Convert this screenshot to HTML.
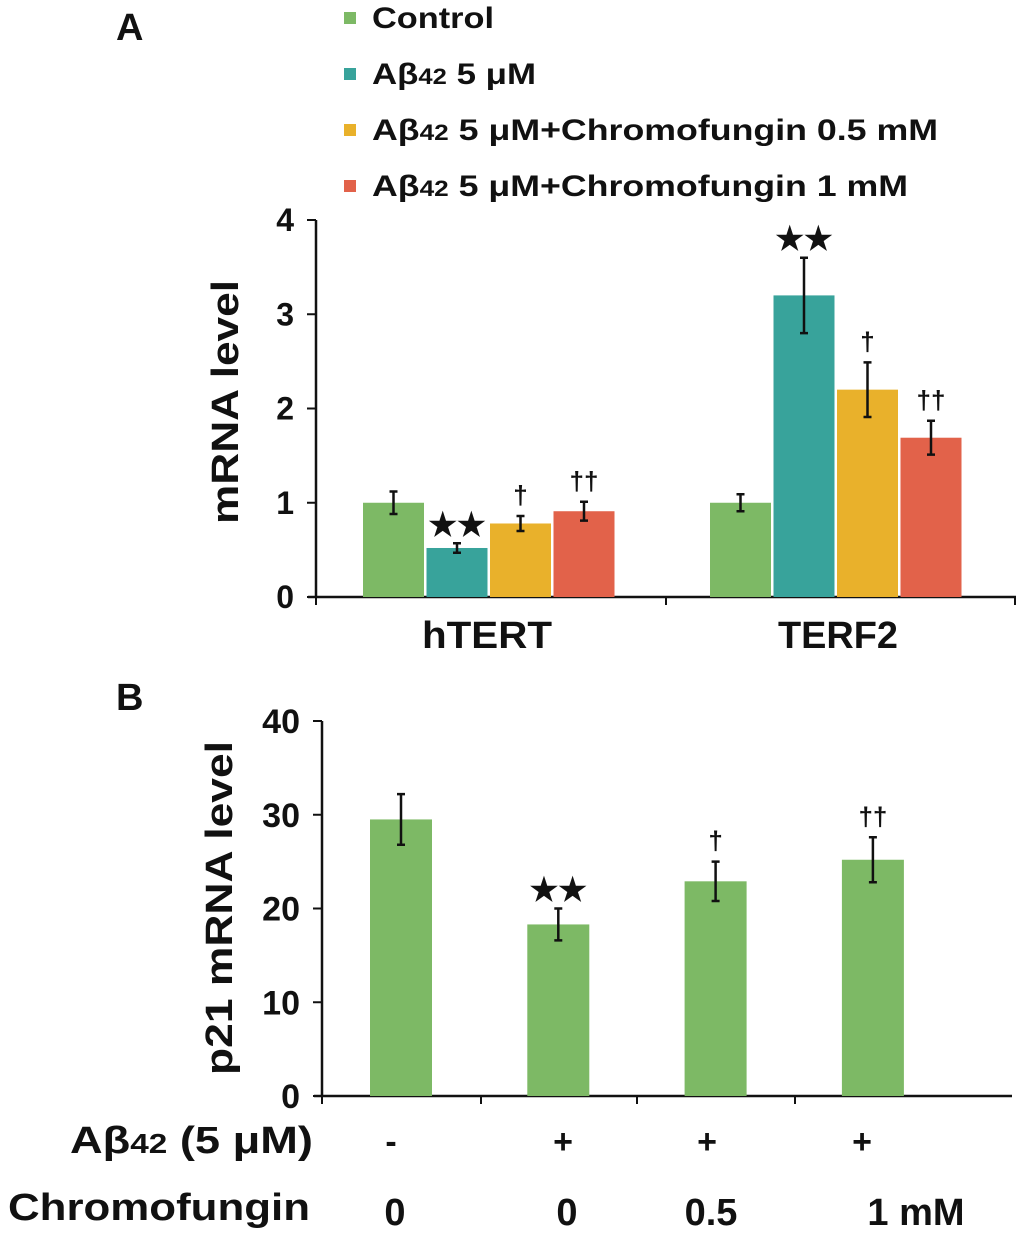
<!DOCTYPE html>
<html><head><meta charset="utf-8"><style>
body{margin:0;background:#fff;width:1020px;height:1236px;overflow:hidden}
svg text{font-family:"Liberation Sans",Arial,sans-serif;font-weight:bold;fill:#111}
</style></head><body>
<svg id="c" width="1020" height="1236" xmlns="http://www.w3.org/2000/svg"></svg>
<script>
const groupsA=["hTERT","TERF2"];
const seriesA=["Control","Aβ42 5 μM","Aβ42 5 μM+Chromofungin 0.5 mM","Aβ42 5 μM+Chromofungin 1 mM"];
const valuesA=[[1.0,0.52,0.78,0.91],[1.0,3.2,2.2,1.69]];
const errorsA=[[0.12,0.05,0.08,0.1],[0.09,0.4,0.29,0.18]];
const marksA=[["","★★","†","††"],["","★★","†","††"]];
const ticksA=[0,1,2,3,4];
const valuesB=[29.5,18.3,22.9,25.2];
const errorsB=[2.7,1.7,2.1,2.4];
const marksB=["","★★","†","††"];
const ticksB=[0,10,20,30,40];
const abetaB=["-","+","+","+"];
const chromoB=["0","0","0.5","1 mM"];
const colors=["#7db965","#38a39b","#e9b12b","#e2624a"];

const svg=document.getElementById('c');const NS="http://www.w3.org/2000/svg";
function mk(t,a,txt){const e=document.createElementNS(NS,t);for(const k in a)e.setAttribute(k,a[k]);if(txt!==undefined)e.textContent=txt;svg.appendChild(e);return e;}
function fit(el,len){el.setAttribute('textLength',len);el.setAttribute('lengthAdjust','spacingAndGlyphs');}

let e=mk('text',{x:116,y:40,'font-size':38},'A');


e=mk('text',{x:116,y:710,'font-size':38},'B');



const legLen=[122,164,566,536];
seriesA.forEach((s,i)=>{
  const y=18+i*56;
  let r=mk('rect',{x:344,y:y-6,width:12,height:12,fill:colors[i]});
  
  
  let t=mk('text',{x:372,y:y+10,'font-size':30});
  
  
  if(s.startsWith('Aβ42')){
    const a=document.createElementNS(NS,'tspan');a.textContent='Aβ';t.appendChild(a);
    const b=document.createElementNS(NS,'tspan');b.textContent='42';b.setAttribute('font-size','22');t.appendChild(b);
    const c=document.createElementNS(NS,'tspan');c.textContent=s.slice(4);t.appendChild(c);
  } else t.textContent=s;
  fit(t,legLen[i]);
});

const AX=316,AY0=597,AY4=220,AMAX=4;
const yA=v=>AY0-(AY0-AY4)*v/AMAX;
e=mk('line',{x1:AX,y1:AY4,x2:AX,y2:AY0,stroke:'#111','stroke-width':2.5});

e=mk('line',{x1:AX-8,y1:AY0,x2:1016,y2:AY0,stroke:'#111','stroke-width':2.5});

[AX,666,1015].forEach(x=>{let l=mk('line',{x1:x,y1:AY0,x2:x,y2:AY0+8,stroke:'#111','stroke-width':2});
});
ticksA.forEach(v=>{
  let l=mk('line',{x1:AX-9,y1:yA(v),x2:AX,y2:yA(v),stroke:'#111','stroke-width':2});
  
  let t=mk('text',{x:AX-22,y:yA(v)+11,'font-size':32,'text-anchor':'end'},v);
  
});
e=mk('text',{x:0,y:0,'font-size':38,'text-anchor':'middle',transform:'translate(238,402) rotate(-90)'},'mRNA level');
fit(e,244);

const gStart=[363,710],bw=61,bstep=63.5;
const gLabelX=[487,838],gLabelLen=[130,120];
groupsA.forEach((g,gi)=>{
  valuesA[gi].forEach((v,si)=>{
    const x=gStart[gi]+si*bstep;
    let r=mk('rect',{x:x,y:yA(v),width:bw,height:AY0-yA(v),fill:colors[si]});
    
    const cx=x+bw/2,err=errorsA[gi][si];
    let p=mk('path',{d:`M${cx},${yA(v+err)}V${yA(v-err)}M${cx-4},${yA(v+err)}H${cx+4}M${cx-4},${yA(v-err)}H${cx+4}`,stroke:'#111','stroke-width':2.5,fill:'none'});
    
    const m=marksA[gi][si];
    if(m){let t=mk('text',{x:cx,y:yA(v+err)-(m[0]==='★'?8:12),'font-size':m[0]==='★'?32:26,'text-anchor':'middle','font-weight':'normal'},m);
      }
  });
  let t=mk('text',{x:gLabelX[gi],y:648,'font-size':38,'text-anchor':'middle'},g);
  fit(t,gLabelLen[gi]);
  
});

const BX=322,BY0=1096,BY40=721,BMAX=40;
const yB=v=>BY0-(BY0-BY40)*v/BMAX;
e=mk('line',{x1:BX,y1:BY40,x2:BX,y2:BY0,stroke:'#111','stroke-width':2.5});

e=mk('line',{x1:BX-8,y1:BY0,x2:1012,y2:BY0,stroke:'#111','stroke-width':2.5});

[BX,481,637,795].forEach(x=>{let l=mk('line',{x1:x,y1:BY0,x2:x,y2:BY0+8,stroke:'#111','stroke-width':2});
});
ticksB.forEach(v=>{
  let l=mk('line',{x1:BX-9,y1:yB(v),x2:BX,y2:yB(v),stroke:'#111','stroke-width':2});
  
  let t=mk('text',{x:BX-22,y:yB(v)+12,'font-size':34,'text-anchor':'end'},v);
  
});
e=mk('text',{x:0,y:0,'font-size':38,'text-anchor':'middle',transform:'translate(232,908) rotate(-90)'},'p21 mRNA level');
fit(e,334);

const bStart=370,bStep=157.3,bW=62;
valuesB.forEach((v,i)=>{
  const x=bStart+i*bStep,cx=x+bW/2,err=errorsB[i];
  let r=mk('rect',{x:x,y:yB(v),width:bW,height:BY0-yB(v),fill:colors[0]});
  
  let p=mk('path',{d:`M${cx},${yB(v+err)}V${yB(v-err)}M${cx-4},${yB(v+err)}H${cx+4}M${cx-4},${yB(v-err)}H${cx+4}`,stroke:'#111','stroke-width':2.5,fill:'none'});
  
  const m=marksB[i];
  if(m){let t=mk('text',{x:cx,y:yB(v+err)-(m[0]==='★'?8:12),'font-size':m[0]==='★'?32:26,'text-anchor':'middle','font-weight':'normal'},m);
    }
});
e=mk('text',{x:70,y:1153,'font-size':38});

{const a=document.createElementNS(NS,'tspan');a.textContent='Aβ';e.appendChild(a);
 const b=document.createElementNS(NS,'tspan');b.textContent='42';b.setAttribute('font-size','28');e.appendChild(b);
 const c=document.createElementNS(NS,'tspan');c.textContent=' (5 μM)';e.appendChild(c);}
fit(e,243);
e=mk('text',{x:8,y:1220,'font-size':38},'Chromofungin');
fit(e,302);

const abX=[391,563,707,862],chX=[395,567,711,916];
abetaB.forEach((s,i)=>{let t=mk('text',{x:abX[i],y:1153,'font-size':34,'text-anchor':'middle'},s);
  });
chromoB.forEach((s,i)=>{let t=mk('text',{x:chX[i],y:1225,'font-size':38,'text-anchor':'middle'},s);
  });
</script>
</body></html>
